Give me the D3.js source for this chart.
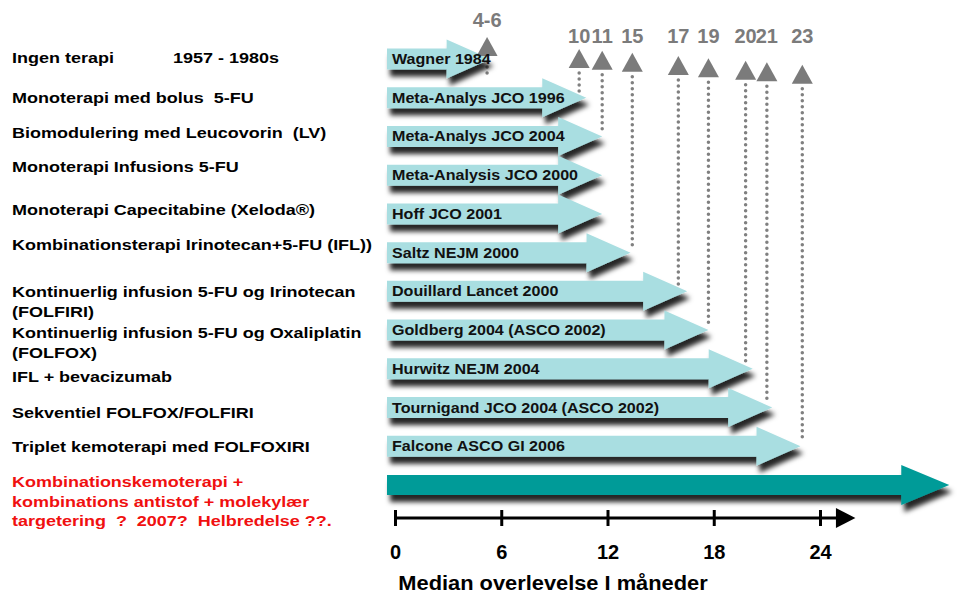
<!DOCTYPE html>
<html>
<head>
<meta charset="utf-8">
<script src="https://cdn.jsdelivr.net/npm/d3@7/dist/d3.min.js"></script>
<style>
body { margin: 0; background: #fff; }
svg { display: block; font-family: "Liberation Sans", Arial, sans-serif; font-weight: bold; }
text { white-space: pre; }
</style>
</head>
<body>
<svg width="960" height="594"></svg>
<script>
// treatments (left column), one block per row
var therapies = [
	["Ingen terapi"],
	["Monoterapi med bolus  5-FU"],
	["Biomodulering med Leucovorin  (LV)"],
	["Monoterapi Infusions 5-FU"],
	["Monoterapi Capecitabine (Xeloda®)"],
	["Kombinationsterapi Irinotecan+5-FU (IFL))"],
	["Kontinuerlig infusion 5-FU og Irinotecan", "(FOLFIRI)"],
	["Kontinuerlig infusion 5-FU og Oxaliplatin", "(FOLFOX)"],
	["IFL + bevacizumab"],
	["Sekventiel FOLFOX/FOLFIRI"],
	["Triplet kemoterapi med FOLFOXIRI"],
	["Kombinationskemoterapi +", "kombinations antistof + molekylær", "targetering  ?  2007?  Helbredelse ??."]
];
var eraNote = "1957 - 1980s";

// study on each arrow and where the arrow ends (months)
var studies = ["Wagner 1984", "Meta-Analys JCO 1996", "Meta-Analys JCO 2004", "Meta-Analysis JCO 2000",
	"Hoff JCO 2001", "Saltz NEJM 2000", "Douillard Lancet 2000", "Goldberg 2004 (ASCO 2002)",
	"Hurwitz NEJM 2004", "Tournigand JCO 2004 (ASCO 2002)", "Falcone ASCO GI 2006", ""];
var arrowEnd = [5.4, 10.8, 11.7, 11.7, 11.7, 13.3, 16.5, 17.7, 20.2, 21.3, 22.9, 31.3];

// survival markers at the top
var markerLabels = ["4-6", "10", "11", "15", "17", "19", "20", "21", "23"];
var markerPos = [5.2, 10.4, 11.7, 13.4, 16.0, 17.7, 19.8, 21.0, 23.0];
var markerRow = [0, 1, 2, 5, 6, 7, 8, 9, 10];

var tickValues = [0, 6, 12, 18, 24];
var axisTitle = "Median overlevelse I måneder";

var svg = d3.select("svg");
var x = d3.scaleLinear().domain([0, 24]).range([395, 820]);
var y = d3.scalePoint().domain(d3.range(therapies.length)).range([59, 485]);

var defs = svg.append("defs");
defs.append("filter")
	.attr("id", "shadow")
	.attr("x", "-5%").attr("y", "-40%").attr("width", "115%").attr("height", "200%")
	.append("feDropShadow")
	.attr("dx", 3).attr("dy", 7).attr("stdDeviation", 2.5)
	.attr("flood-color", "#000").attr("flood-opacity", 0.85);

function arrowPath(x0, x1, cy, sh, hh, hl) {
	var hx = x1 - hl;
	return "M" + x0 + "," + (cy - sh / 2) + "H" + hx + "V" + (cy - hh) + "L" + x1 + "," + cy +
		"L" + hx + "," + (cy + hh) + "V" + (cy + sh / 2) + "H" + x0 + "Z";
}

function stretchText(parent, str, tx, ty, k, size, color) {
	return parent.append("text")
		.attr("transform", "translate(" + tx + "," + ty + ") scale(" + k + ",1)")
		.attr("font-size", size)
		.attr("fill", color)
		.text(str);
}

// left labels
var labelShift = [4, 5, 2, -3, 1, -3, 6, 8, 13, 10, 6, 2];
var left = svg.append("g");
therapies.forEach(function(lines, i) {
	var col = i == therapies.length - 1 ? "#f01010" : "#000";
	lines.forEach(function(t, j) {
		stretchText(left, t, 12, y(i) + labelShift[i] + j * 19.5, 1.2, 15, col);
	});
});
stretchText(left, eraNote, 173, y(0) + labelShift[0], 1.2, 15, "#000");

// marker geometry
function markerApex(i) { return i == 0 ? 37 : 36 + markerPos[i] * 1.25; }

// dotted guide lines
svg.append("g").selectAll("line")
	.data(markerLabels)
	.join("line")
	.attr("x1", function(d, i) { return x(markerPos[i]); })
	.attr("x2", function(d, i) { return x(markerPos[i]); })
	.attr("y1", function(d, i) { return markerApex(i) + 24; })
	.attr("y2", function(d, i) { return Math.max(y(markerRow[i]) - 4, markerApex(i) + 40); })
	.attr("stroke", "#808080")
	.attr("stroke-width", 3.5)
	.attr("stroke-linecap", "round")
	.attr("stroke-dasharray", "0 6");

// arrows
svg.append("g").selectAll("path")
	.data(arrowEnd)
	.join("path")
	.attr("d", function(d, i) {
		var last = i == arrowEnd.length - 1;
		return arrowPath(x(0) - 8, x(d), y(i), last ? 20 : 21, last ? 20 : 19.5, last ? 48 : 44);
	})
	.attr("fill", function(d, i) { return i == arrowEnd.length - 1 ? "#009b98" : "#a9dee1"; })
	.attr("filter", "url(#shadow)");

// triangles + numbers
var mk = svg.append("g");
mk.selectAll("path")
	.data(markerLabels)
	.join("path")
	.attr("d", function(d, i) {
		var cx = x(markerPos[i]), a = markerApex(i);
		return "M" + cx + "," + a + "L" + (cx + 10.5) + "," + (a + 19) + "L" + (cx - 10.5) + "," + (a + 19) + "Z";
	})
	.attr("fill", "#7b7b7b");
mk.selectAll("text")
	.data(markerLabels)
	.join("text")
	.attr("x", function(d, i) { return x(markerPos[i]); })
	.attr("y", function(d, i) { return i == 0 ? 27 : 43; })
	.attr("text-anchor", "middle")
	.attr("font-size", 20)
	.attr("fill", "#7b7b7b")
	.text(function(d) { return d; });

// study names on arrows
var st = svg.append("g");
studies.forEach(function(s, i) {
	if (s) stretchText(st, s, x(0) - 3, y(i) + 5, 1.15, 14, "#111");
});

// axis
var ay = 518;
var axis = svg.append("g")
	.attr("transform", "translate(0," + (ay - 8) + ")")
	.call(d3.axisBottom(x).tickValues(tickValues).tickSize(16).tickPadding(19));
axis.select(".domain").remove();
axis.selectAll(".tick line").attr("stroke", "#000").attr("stroke-width", 3);
axis.selectAll(".tick text")
	.attr("font-size", 20)
	.attr("font-family", "Liberation Sans, Arial, sans-serif")
	.attr("font-weight", "bold")
	.attr("fill", "#000");
svg.append("line")
	.attr("x1", x(0)).attr("x2", x(25))
	.attr("y1", ay).attr("y2", ay)
	.attr("stroke", "#000").attr("stroke-width", 3);
svg.append("path")
	.attr("d", "M" + x(24.9) + "," + (ay - 10) + "L" + x(26) + "," + ay + "L" + x(24.9) + "," + (ay + 10) + "Z")
	.attr("fill", "#000");

svg.append("text")
	.attr("transform", "translate(553,590) scale(1.04,1)")
	.attr("text-anchor", "middle")
	.attr("font-size", 21)
	.attr("fill", "#000")
	.text(axisTitle);
</script>
</body>
</html>
